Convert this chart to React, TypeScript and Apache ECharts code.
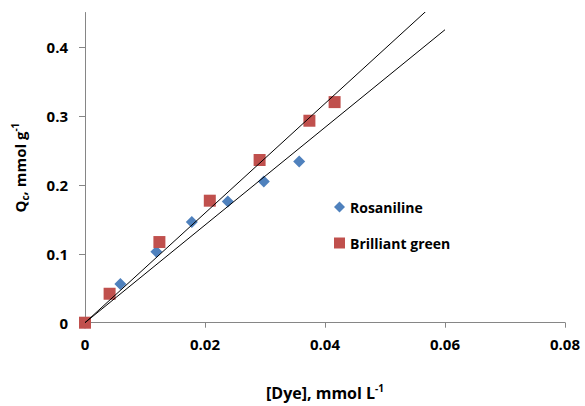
import React, { useEffect, useRef } from "react";
import * as echarts from "echarts";

const rosaniline: [number, number][] = [
  [0, 0],
  [0.0059, 0.056],
  [0.0119, 0.103],
  [0.0178, 0.146],
  [0.0238, 0.176],
  [0.0298, 0.205],
  [0.0357, 0.234],
];
const brilliantGreen: [number, number][] = [
  [0, 0],
  [0.0041, 0.042],
  [0.0124, 0.117],
  [0.0208, 0.177],
  [0.0291, 0.236],
  [0.0374, 0.293],
  [0.0416, 0.320],
];
// linear trend lines through origin (slopes)
const trendRosaniline: [number, number][] = [
  [0, 0],
  [0.06, 0.425],
];
const trendBrilliant: [number, number][] = [
  [0, 0],
  [0.06, 0.477],
];
const yTicks = [0, 0.1, 0.2, 0.3, 0.4];

const FONT = "Open Sans";
const FS = 15;
const AXIS_COLOR = "#868686";

export default function App() {
  const ref = useRef<HTMLDivElement>(null);
  useEffect(() => {
    if (!ref.current) return;
    const chart = echarts.init(ref.current, undefined, { renderer: "svg" });
    const base = { fontFamily: FONT, fontWeight: "bold", color: "#000" };
    chart.setOption({
      animation: false,
      backgroundColor: "#ffffff",
      grid: { left: 85, right: 20, top: 12.5, bottom: 83.3 },
      legend: {
        orient: "vertical",
        left: 329,
        top: 194,
        padding: 5,
        itemWidth: 11,
        itemHeight: 11,
        itemGap: 20,
        data: [
          { name: "Rosaniline", icon: "diamond" },
          { name: "Brilliant green", icon: "rect" },
        ],
        textStyle: { ...base, fontSize: 14, lineHeight: 16 },
      },
      xAxis: {
        type: "value",
        min: 0,
        max: 0.08,
        interval: 0.02,
        splitLine: { show: false },
        axisLine: { lineStyle: { color: AXIS_COLOR, width: 1 } },
        axisTick: { length: 5, lineStyle: { color: AXIS_COLOR } },
        axisLabel: { ...base, margin: 14, fontSize: FS },
        name: "{a|[Dye], mmol L}{sup|-1}",
        nameLocation: "middle",
        nameGap: 60,
        nameTextStyle: {
          rich: {
            a: { ...base, fontSize: 16, lineHeight: 20 },
            sup: { ...base, fontSize: 10, lineHeight: 12, verticalAlign: "top" },
          },
        },
      },
      yAxis: {
        type: "value",
        min: 0,
        max: 0.45,
        splitLine: { show: false },
        axisLine: { show: true, lineStyle: { color: AXIS_COLOR, width: 1 } },
        axisTick: { show: true, length: 6, customValues: yTicks, lineStyle: { color: AXIS_COLOR } },
        axisLabel: { ...base, customValues: yTicks, margin: 17, fontSize: FS },
        name: "{a|Q}{sub|c}{a|, mmol g}{sup|-1}",
        nameLocation: "middle",
        nameRotate: 90,
        nameGap: 55,
        nameTextStyle: {
          rich: {
            a: { ...base, fontSize: FS, lineHeight: 20 },
            sub: { ...base, fontSize: 10, lineHeight: 10, verticalAlign: "bottom" },
            sup: { ...base, fontSize: 10, lineHeight: 12, verticalAlign: "top" },
          },
        },
      },
      series: [
        {
          name: "Rosaniline",
          type: "scatter",
          symbol: "diamond",
          symbolSize: 12,
          itemStyle: { color: "#4F81BD", opacity: 1 },
          data: rosaniline,
          z: 2,
        },
        {
          name: "Brilliant green",
          type: "scatter",
          symbol: "rect",
          symbolSize: 12,
          itemStyle: { color: "#C0504D", opacity: 1 },
          data: brilliantGreen,
          z: 3,
        },
        {
          name: "trend-r",
          type: "line",
          data: trendRosaniline,
          showSymbol: false,
          clip: true,
          silent: true,
          lineStyle: { color: "#000", width: 1 },
          z: 4,
        },
        {
          name: "trend-b",
          type: "line",
          data: trendBrilliant,
          showSymbol: false,
          clip: true,
          silent: true,
          lineStyle: { color: "#000", width: 1 },
          z: 4,
        },
      ],
    });
    return () => chart.dispose();
  }, []);
  return <div ref={ref} style={{ width: 585, height: 406, position: "absolute", left: 0, top: 0 }} />;
}
